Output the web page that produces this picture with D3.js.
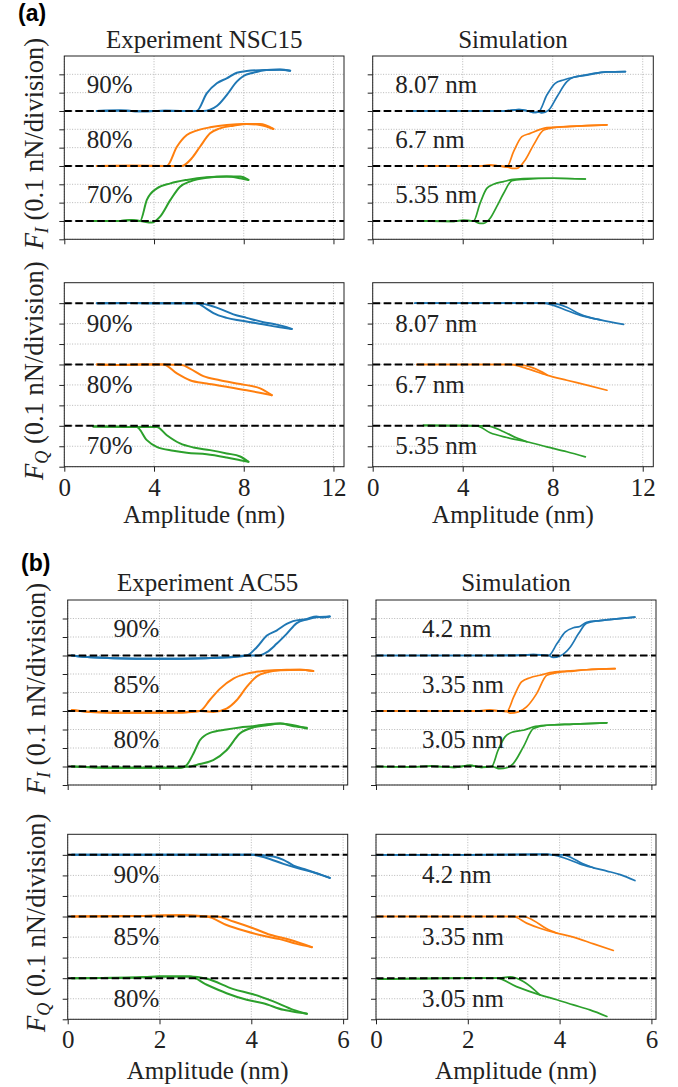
<!DOCTYPE html>
<html><head><meta charset="utf-8">
<script src="https://cdn.jsdelivr.net/npm/d3@7"></script>
<style>body{margin:0;background:#fff} svg{display:block}</style>
</head><body>
<svg id="c" width="678" height="1087"></svg>
<script>
// ---------------- DATA ----------------
// Each curve: [flat start, branch 1, branch 2]; y relative to its own baseline (units = divisions)
const baselineOffsets = [6, 3, 0];
const seriesColors = ['#1f77b4', '#ff7f0e', '#2ca02c'];

const xTicksA = [0, 4, 8, 12];
const xTicksB = [0, 2, 4, 6];
const yTicksFI = [-1, 0, 1, 2, 3, 4, 5, 6, 7, 8];
const yTicksFQ = [-2, -1, 0, 1, 2, 3, 4, 5, 6];

const aExpLabels = ['90%', '80%', '70%'];
const aSimLabels = ['8.07 nm', '6.7 nm', '5.35 nm'];
const bExpLabels = ['90%', '85%', '80%'];
const bSimLabels = ['4.2 nm', '3.35 nm', '3.05 nm'];
const titles = ['Experiment NSC15', 'Simulation', 'Experiment AC55', 'Simulation'];

// (a) Experiment NSC15, F_I
const aExpFI_90 = [[[1.45,0],[2.5,0.02],[3.5,-0.02],[4.5,0.01],[5.9,0]],
  [[6.35,0.96],[6.8,1.51],[7.24,1.78],[7.69,2.09],[8.13,2.18],[9.03,2.24],[9.6,2.25],[10.07,2.2]],
  [[6.2,0],[6.8,0.27],[7.24,0.87],[7.69,1.6],[7.99,1.91],[8.43,2.09],[9.03,2.24],[9.62,2.27],[10.07,2.2]]];
const aExpFI_80 = [[[1.45,0],[3,0.01],[4.57,0]],
  [[5.02,1.05],[5.46,1.69],[5.9,1.93],[6.5,2.11],[7.24,2.24],[8.13,2.29],[8.73,2.24],[9.32,2.02]],
  [[5.24,0],[5.68,0.42],[6.05,1.05],[6.5,1.78],[6.94,2.05],[7.54,2.2],[8.13,2.29],[8.73,2.29],[9.32,2.02]]];
const aExpFI_70 = [[[1.29,0],[2.5,0],[2.97,0.05],[3.38,0]],
  [[3.68,1.15],[4.13,1.78],[4.73,2.05],[5.46,2.24],[6.35,2.38],[7.24,2.42],[7.84,2.33],[8.21,2.24]],
  [[3.9,-0.09],[4.27,0.24],[4.73,1.15],[5.16,1.87],[5.6,2.15],[6.35,2.36],[7.24,2.42],[7.84,2.42],[8.21,2.24]]];

// (a) Simulation, F_I
const aSimFI_1 = [[[1.59,0],[5.8,0],[6.5,0.07],[6.9,0],[7.2,-0.08],[7.37,-0.05]],
  [[7.74,0.87],[8.11,1.51],[8.48,1.69],[8.93,1.84],[9.23,1.91],[9.82,2.05],[10.41,2.13],[11.23,2.15]],
  [[7.52,-0.1],[7.82,0.05],[8.19,0.78],[8.63,1.6],[8.93,1.84],[9.52,1.96],[10.41,2.13],[11.23,2.15]]];
const aSimFI_2 = [[[1.96,0],[4.8,0],[5.22,0.05],[5.6,0],[5.96,-0.05]],
  [[6.26,0.78],[6.63,1.6],[7.0,1.78],[7.45,2.0],[7.74,2.09],[8.63,2.15],[9.52,2.2],[10.41,2.24]],
  [[6.2,-0.13],[6.41,-0.13],[6.78,0.33],[7.15,1.15],[7.6,1.96],[8.04,2.09],[8.63,2.15],[9.52,2.2],[10.41,2.24]]];
const aSimFI_3 = [[[2.18,0],[3.5,-0.02],[4.03,0.04],[4.48,0]],
  [[4.77,0.96],[5.07,1.78],[5.37,2.0],[5.82,2.15],[6.26,2.27],[7.15,2.33],[8.04,2.33],[9.45,2.29]],
  [[4.77,-0.13],[4.92,-0.13],[5.22,0.15],[5.51,0.78],[5.82,1.51],[6.19,2.2],[6.7,2.27],[8.04,2.33],[9.45,2.29]]];

// (a) Experiment NSC15, F_Q
const aExpFQ_90 = [[[1.45,0],[3,0.01],[4.5,-0.01],[5.9,0]],
  [[6.35,-0.28],[6.65,-0.49],[7.24,-0.72],[7.84,-0.85],[8.58,-0.98],[9.17,-1.1],[9.77,-1.2],[10.14,-1.26]],
  [[6.05,0],[6.35,-0.07],[6.94,-0.28],[7.54,-0.55],[8.13,-0.72],[8.88,-0.93],[9.47,-1.05],[9.92,-1.18],[10.14,-1.26]]];
const aExpFQ_80 = [[[1.45,0],[2.5,-0.02],[3.5,0],[4.42,0]],
  [[5.02,-0.44],[5.6,-0.77],[6.35,-0.93],[7.24,-1.09],[8.13,-1.26],[8.88,-1.42],[9.25,-1.5]],
  [[5.24,-0.03],[5.6,-0.2],[6.2,-0.57],[6.94,-0.77],[7.84,-0.96],[8.73,-1.17],[9.25,-1.5]]];
const aExpFQ_70 = [[[1.29,-0.03],[2.5,-0.05],[3.23,-0.06]],
  [[3.68,-0.7],[4.12,-1.03],[4.86,-1.22],[5.46,-1.32],[6.35,-1.39],[7.24,-1.55],[7.84,-1.68],[8.21,-1.76]],
  [[4.12,-0.06],[4.57,-0.46],[5.16,-0.86],[5.76,-1.06],[6.5,-1.19],[7.24,-1.35],[7.84,-1.5],[8.21,-1.76]]];

// (a) Simulation, F_Q
const aSimFQ_1 = [[[1.88,0],[5,0],[7.59,0]],
  [[8.04,-0.11],[8.63,-0.36],[9.23,-0.6],[10.12,-0.82],[11.15,-1.04]],
  [[7.89,0],[8.63,-0.2],[9.23,-0.55],[10.12,-0.82]]];
const aSimFQ_2 = [[[1.96,0],[4,0],[6.1,0]],
  [[6.85,-0.2],[7.74,-0.52],[8.63,-0.77],[9.52,-1.01],[10.41,-1.26]],
  [[6.48,0],[7.15,-0.18],[7.74,-0.5]]];
const aSimFQ_3 = [[[2.25,0.02],[3.5,0.01],[4.62,0]],
  [[5.22,-0.34],[5.96,-0.57],[6.85,-0.78],[7.74,-1.03],[8.63,-1.27],[9.45,-1.52]],
  [[5.07,0],[5.82,-0.29],[6.41,-0.6],[6.85,-0.78]]];

// (b) Experiment AC55, F_I
const bExpFI_90 = [[[0.09,0],[0.5,-0.1],[1.5,-0.18],[2.5,-0.18],[3.5,-0.1],[3.9,0]],
  [[4.12,0.45],[4.34,1.08],[4.55,1.35],[4.77,1.71],[4.91,1.86],[5.21,1.98],[5.42,2.11],[5.55,2.05],[5.71,2.11]],
  [[4.15,0],[4.34,0.18],[4.55,0.63],[4.77,1.17],[4.99,1.75],[5.21,1.95],[5.42,2.07],[5.71,2.11]]];
const bExpFI_85 = [[[0.09,0.05],[0.5,-0.05],[1.5,-0.1],[2.5,-0.08],[2.88,0]],
  [[3.1,0.61],[3.32,1.21],[3.61,1.75],[3.9,2.02],[4.19,2.14],[4.48,2.2],[4.77,2.23],[5.06,2.23],[5.35,2.16]],
  [[3.17,-0.05],[3.46,0.13],[3.68,0.58],[3.9,1.3],[4.12,1.87],[4.34,2.09],[4.63,2.2],[5.06,2.23],[5.35,2.16]]];
const bExpFI_80 = [[[0.09,0],[1.0,-0.07],[2.45,-0.07],[2.56,0]],
  [[2.74,0.7],[2.88,1.42],[3.1,1.82],[3.46,2.0],[3.75,2.11],[4.04,2.18],[4.34,2.29],[4.63,2.32],[4.92,2.23],[5.21,2.05]],
  [[2.59,-0.02],[2.88,0.13],[3.17,0.34],[3.46,0.88],[3.75,1.78],[4.04,2.11],[4.34,2.23],[4.63,2.32],[4.92,2.18],[5.21,2.1]]];

// (b) Simulation, F_I
const bSimFI_1 = [[[0.01,0],[2.5,0],[3.2,0.02],[3.43,0.05],[3.76,0]],
  [[3.94,0.63],[4.12,1.26],[4.3,1.5],[4.44,1.57],[4.59,1.8],[4.88,1.89],[5.24,1.98],[5.64,2.07]],
  [[3.86,-0.1],[4.01,-0.02],[4.23,0.45],[4.41,1.17],[4.59,1.75],[4.88,1.89],[5.24,1.98],[5.64,2.07]]];
const bSimFI_2 = [[[0.01,0],[2.2,0],[2.48,0.05],[2.7,0],[2.85,-0.02]],
  [[3.0,0.76],[3.17,1.57],[3.36,1.8],[3.57,1.93],[3.79,2.07],[4.15,2.16],[4.59,2.23],[5.21,2.29]],
  [[2.92,-0.12],[3.1,-0.05],[3.28,0.22],[3.5,0.94],[3.72,1.93],[3.94,2.07],[4.3,2.16],[4.59,2.23],[5.21,2.29]]];
const bSimFI_3 = [[[0.01,0],[0.8,-0.02],[1.2,0.02],[1.7,-0.05],[2.05,0.06],[2.3,-0.05],[2.52,0]],
  [[2.66,0.88],[2.81,1.6],[2.99,1.87],[3.21,1.96],[3.43,2.14],[3.72,2.23],[4.3,2.29],[5.03,2.36]],
  [[2.7,-0.12],[2.85,-0.07],[2.99,0.16],[3.21,1.06],[3.43,2.05],[3.72,2.23],[4.3,2.29],[5.03,2.36]]];

// (b) Experiment AC55, F_Q
const bExpFQ_90 = [[[0.09,0],[2,0],[4.04,0]],
  [[4.33,-0.15],[4.7,-0.44],[5.06,-0.68],[5.42,-0.89],[5.71,-1.12]],
  [[4.48,-0.08],[4.7,-0.24],[4.92,-0.52],[5.21,-0.73],[5.5,-0.96],[5.71,-1.12]]];
const bExpFQ_85 = [[[0.09,0],[1.5,0.03],[2.5,0.06],[3.03,0]],
  [[3.46,-0.41],[3.83,-0.68],[4.26,-0.94],[4.62,-1.1],[4.99,-1.33],[5.32,-1.49]],
  [[3.25,0],[3.61,-0.24],[4.04,-0.57],[4.41,-0.89],[4.84,-1.13],[5.32,-1.49]]];
const bExpFQ_80 = [[[0.09,0],[1.5,0.03],[2.0,0.08],[2.66,0.08]],
  [[3.03,-0.32],[3.46,-0.73],[3.9,-1.05],[4.26,-1.22],[4.7,-1.54],[5.13,-1.7],[5.21,-1.73]],
  [[3.03,-0.03],[3.61,-0.53],[4.04,-0.78],[4.48,-1.13],[4.92,-1.54],[5.21,-1.73]]];

// (b) Simulation, F_Q
const bSimFQ_1 = [[[0.01,0],[2,0],[3.5,0.02],[3.72,0.03],[3.86,0]],
  [[4.15,-0.19],[4.44,-0.44],[4.74,-0.63],[5.03,-0.79],[5.32,-0.96],[5.64,-1.25]],
  [[4.08,0],[4.3,-0.19],[4.44,-0.36],[4.74,-0.63]]];
const bSimFQ_2 = [[[0.01,0],[2,0],[2.99,0]],
  [[3.28,-0.32],[3.57,-0.57],[3.94,-0.81],[4.3,-1.0],[4.74,-1.33],[5.17,-1.65]],
  [[3.21,0],[3.43,-0.19],[3.72,-0.6],[3.94,-0.81]]];
const bSimFQ_3 = [[[0.05,-0.05],[1.0,-0.02],[2.0,0],[2.63,0]],
  [[3.06,-0.41],[3.57,-0.81],[3.94,-1.05],[4.3,-1.3],[4.66,-1.54],[5.03,-1.86]],
  [[2.92,0.06],[3.21,-0.16],[3.57,-0.81]]];

// ---------------- DRAW ----------------
const svg = d3.select('#c');
const SERIF = "'Liberation Serif','Times New Roman',serif";
const FS = 25;
const TXT = '#222';

function panel(p) {
  const x = d3.scaleLinear().domain(p.xd).range([p.x0, p.x1]);
  const y = d3.scaleLinear().domain(p.yd).range([p.y1, p.y0]);
  const g = svg.append('g');
  // grid
  g.selectAll(null).data(p.xt).join('line')
    .attr('x1', d => x(d)).attr('x2', d => x(d)).attr('y1', p.y0).attr('y2', p.y1)
    .attr('stroke', '#b0b0b0').attr('stroke-width', 0.9).attr('stroke-dasharray', '1,1.6');
  g.selectAll(null).data(p.yt).join('line')
    .attr('x1', p.x0).attr('x2', p.x1).attr('y1', d => y(d)).attr('y2', d => y(d))
    .attr('stroke', '#b0b0b0').attr('stroke-width', 0.9).attr('stroke-dasharray', '1,1.6');
  // curves
  const line = d3.line().x(d => x(d[0])).curve(d3.curveMonotoneX);
  p.curves.forEach((c, i) => {
    const off = baselineOffsets[i];
    line.y(d => y(d[1] + off));
    [c[0].concat(c[1]), c[0].concat(c[2])].forEach(pts => {
      g.append('path').attr('d', line(pts)).attr('fill', 'none')
        .attr('stroke', seriesColors[i]).attr('stroke-width', p.exp ? 2.0 : 1.7)
        .attr('stroke-linejoin', 'round').attr('stroke-linecap', 'round');
    });
  });
  // dashed baselines
  g.selectAll(null).data(baselineOffsets).join('line')
    .attr('x1', p.x0).attr('x2', p.x1).attr('y1', d => y(d)).attr('y2', d => y(d))
    .attr('stroke', '#000').attr('stroke-width', 2).attr('stroke-dasharray', '7.5,3.5');
  // curve labels
  g.selectAll(null).data(p.labels).join('text')
    .attr('x', x(1))
    .attr('y', (d, i) => p.fq ? y(baselineOffsets[i] - 1) + 8 : y(baselineOffsets[i] + 1))
    .attr('font-family', SERIF).attr('font-size', FS).attr('fill', TXT)
    .text(d => d);
  // axes
  const xa = d3.axisBottom(x).tickValues(p.xt).tickSize(5).tickFormat(p.xlab ? d3.format('d') : '');
  const gx = g.append('g').attr('transform', `translate(0,${p.y1})`).call(xa);
  const ya = d3.axisLeft(y).tickValues(p.yt).tickSize(5).tickFormat('');
  const gy = g.append('g').attr('transform', `translate(${p.x0},0)`).call(ya);
  [gx, gy].forEach(a => {
    a.select('.domain').remove();
    a.selectAll('.tick line').attr('stroke', '#222').attr('stroke-width', 1);
  });
  gx.selectAll('.tick text').attr('y', 29).attr('dy', null)
    .attr('font-family', SERIF).attr('font-size', FS).attr('fill', TXT);
  // frame
  g.append('rect').attr('x', p.x0).attr('y', p.y0).attr('width', p.x1 - p.x0).attr('height', p.y1 - p.y0)
    .attr('fill', 'none').attr('stroke', '#222').attr('stroke-width', 1);
  // title
  if (p.title) {
    g.append('text').attr('x', (p.x0 + p.x1) / 2).attr('y', p.titleY).attr('text-anchor', 'middle')
      .attr('font-family', SERIF).attr('font-size', FS).attr('fill', TXT).text(p.title);
  }
  if (p.xlab) {
    g.append('text').attr('x', (p.x0 + p.x1) / 2).attr('y', p.xlabY).attr('text-anchor', 'middle')
      .attr('font-family', SERIF).attr('font-size', FS).attr('fill', TXT).text('Amplitude (nm)');
  }
  if (p.ysub) {
    const t = g.append('text')
      .attr('transform', `translate(${p.ylabX},${(p.y0 + p.y1) / 2 - 4}) rotate(-90)`)
      .attr('text-anchor', 'middle').attr('font-family', SERIF).attr('font-size', 26.5).attr('fill', TXT);
    t.append('tspan').attr('font-style', 'italic').text('F');
    t.append('tspan').attr('font-style', 'italic').attr('font-size', 18).attr('dy', 5).text(p.ysub);
    t.append('tspan').attr('dy', -5).text(' (0.1 nN/division)');
  }
}

const colA = [[64.3, 344], [372.7, 653.3]];
const colB = [[67.7, 347.7], [376, 656]];
const rowsA = [[56, 239.3], [282.7, 466.7]];
const rowsB = [[600, 785], [834.3, 1019.3]];

const panelDefs = [
  {c: colA[0], r: rowsA[0], xd: [0, 12.47], xt: xTicksA, fq: false, exp: true, curves: [aExpFI_90, aExpFI_80, aExpFI_70], labels: aExpLabels, title: titles[0], titleY: 48, ysub: 'I', ylabX: 43},
  {c: colA[1], r: rowsA[0], xd: [0, 12.47], xt: xTicksA, fq: false, curves: [aSimFI_1, aSimFI_2, aSimFI_3], labels: aSimLabels, title: titles[1], titleY: 48},
  {c: colA[0], r: rowsA[1], xd: [0, 12.47], xt: xTicksA, fq: true, exp: true, curves: [aExpFQ_90, aExpFQ_80, aExpFQ_70], labels: aExpLabels, xlab: true, xlabY: 523, ysub: 'Q', ylabX: 43},
  {c: colA[1], r: rowsA[1], xd: [0, 12.47], xt: xTicksA, fq: true, curves: [aSimFQ_1, aSimFQ_2, aSimFQ_3], labels: aSimLabels, xlab: true, xlabY: 523},
  {c: colB[0], r: rowsB[0], xd: [0, 6.1], xt: xTicksB, fq: false, exp: true, curves: [bExpFI_90, bExpFI_85, bExpFI_80], labels: bExpLabels, title: titles[2], titleY: 591, ysub: 'I', ylabX: 45},
  {c: colB[1], r: rowsB[0], xd: [0, 6.1], xt: xTicksB, fq: false, curves: [bSimFI_1, bSimFI_2, bSimFI_3], labels: bSimLabels, title: titles[3], titleY: 591},
  {c: colB[0], r: rowsB[1], xd: [0, 6.1], xt: xTicksB, fq: true, exp: true, curves: [bExpFQ_90, bExpFQ_85, bExpFQ_80], labels: bExpLabels, xlab: true, xlabY: 1079, ysub: 'Q', ylabX: 45},
  {c: colB[1], r: rowsB[1], xd: [0, 6.1], xt: xTicksB, fq: true, curves: [bSimFQ_1, bSimFQ_2, bSimFQ_3], labels: bSimLabels, xlab: true, xlabY: 1079}
];

panelDefs.forEach(d => panel({
  x0: d.c[0], x1: d.c[1], y0: d.r[0], y1: d.r[1], xd: d.xd, xt: d.xt,
  yd: d.fq ? [-2, 7] : [-1, 9], yt: d.fq ? yTicksFQ : yTicksFI, fq: d.fq, exp: d.exp,
  curves: d.curves, labels: d.labels, title: d.title, titleY: d.titleY,
  xlab: d.xlab, xlabY: d.xlabY, ysub: d.ysub, ylabX: d.ylabX
}));

// section labels
svg.append('text').attr('x', 18).attr('y', 21).attr('font-family', "'Liberation Sans',Arial,sans-serif")
  .attr('font-weight', 'bold').attr('font-size', 23).attr('fill', '#000').text('(a)');
svg.append('text').attr('x', 21).attr('y', 571).attr('font-family', "'Liberation Sans',Arial,sans-serif")
  .attr('font-weight', 'bold').attr('font-size', 23).attr('fill', '#000').text('(b)');
</script>
</body></html>
